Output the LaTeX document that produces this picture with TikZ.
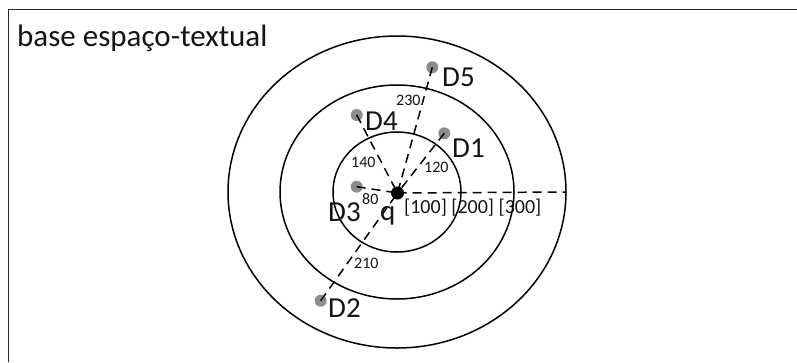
\documentclass[tikz,border=0pt]{standalone}
\usepackage{fontspec}
\setmainfont{Carlito}
\begin{document}
\begin{tikzpicture}[x=1pt,y=-1pt,
  ring/.style={draw=black,line width=1.5pt},
  doc/.style={circle,fill=black!45,inner sep=0pt,minimum size=12pt},
  qdot/.style={circle,fill=black,inner sep=0pt,minimum size=13pt},
  link/.style={line width=1.5pt,dash pattern=on 9pt off 6pt},
  big/.style={font=\fontsize{29}{31}\selectfont,inner sep=0pt,anchor=base west,text=black!92},
  num/.style={font=\fontsize{16}{18}\selectfont,inner sep=0pt,anchor=base west,text=black!92}]
\useasboundingbox (0,0) rectangle (797,362);
\draw[line width=1.6pt,black!85] (8.5,362) -- (8.5,9.5) -- (797,9.5);
\node[big,font=\fontsize{31}{33}\selectfont] (title) at (17,46) {base espaço-textual};
\coordinate (c) at (397,192);
\draw[ring] (c) ellipse [x radius=64, y radius=60];
\draw[ring] (c) ellipse [x radius=117, y radius=107];
\draw[ring] (c) ellipse [x radius=169, y radius=156];
\node[doc] (d1) at (444.3,133.3) {};
\node[doc] (d2) at (320.7,300.7) {};
\node[doc] (d3) at (356.7,186.7) {};
\node[doc] (d4) at (356.7,115) {};
\node[doc] (d5) at (432.3,67.3) {};
\node[qdot] (q) at (397.5,193) {};
\coordinate (rend) at (566,192);
\draw[link] (q.center) -- (rend);
\foreach \d in {d1,d2,d3,d4,d5} \draw[link] (\d.center) -- (q.center);
\node[big] (l1) at (452,157) {D1};
\node[big] (l2) at (328,317) {D2};
\node[big] (l3) at (328,221) {D3};
\node[big] (l4) at (365,130) {D4};
\node[big] (l5) at (442,86) {D5};
\node[big] (lq) at (380,220) {q};
\node[num,font=\fontsize{20}{22}\selectfont] (scale) at (404,213) {[100] [200] [300]};
\node[num] (n230) at (396,105) {230};
\node[num] (n140) at (351,167) {140};
\node[num] (n120) at (424,172) {120};
\node[num] (n80) at (362,204) {80};
\node[num] (n210) at (354,268) {210};
\end{tikzpicture}
\end{document}
